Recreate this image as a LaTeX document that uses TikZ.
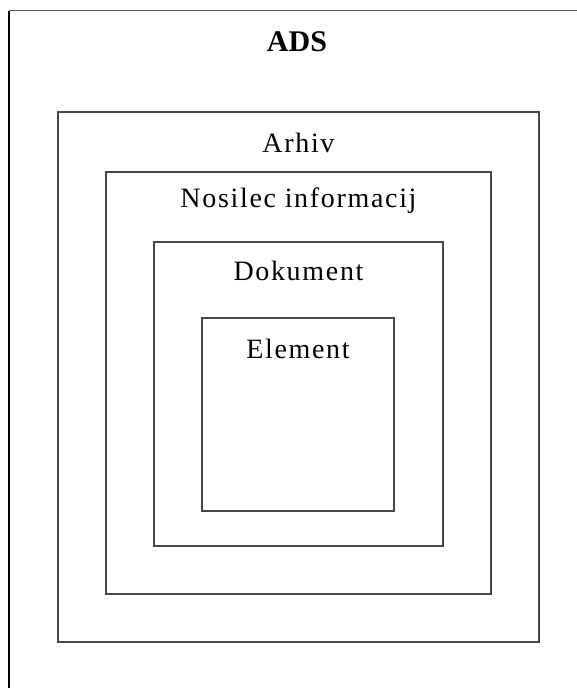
\documentclass[tikz,border=0pt]{standalone}
\usepackage{fontspec}
\setmainfont{Liberation Serif}
\newfontfamily\labfont[LetterSpace=6]{Liberation Serif}
\begin{document}
\begin{tikzpicture}[x=1pt,y=-1pt,
  layerbox/.style={draw=black!72, line width=1.2pt, rectangle, inner sep=0pt},
  layerlabel/.style={anchor=base, inner sep=0pt, font=\labfont\fontsize{28}{30}\selectfont},
  titlelabel/.style={anchor=base, inner sep=0pt, font=\bfseries\fontsize{30}{32}\selectfont}]
\useasboundingbox (0,0) rectangle (577,688);
\fill[white] (0,0) rectangle (577,688);
% outer frame (only left and top visible)
\draw[black, line width=1.6pt] (9,688) -- (9,10.5);
\draw[black!65, line width=1.1pt] (9,10.5) -- (577,10.5);
% boxes
\node[layerbox, minimum width=481pt, minimum height=530pt] (arhiv) at (298.5,377) {};
\node[layerbox, minimum width=385pt, minimum height=422pt] (nosilec) at (298.5,383) {};
\node[layerbox, minimum width=289pt, minimum height=304pt] (dokument) at (298.5,394) {};
\node[layerbox, minimum width=192pt, minimum height=193pt] (element) at (298,414.5) {};
% labels
\node[titlelabel] (ads) at (297,51) {ADS};
\node[layerlabel] (larhiv) at (298.5,152) {Arhiv};
\node[layerlabel] (lnosilec) at (298.5,207) {Nosilec informacij};
\node[layerlabel] (ldokument) at (298.5,280) {Dokument};
\node[layerlabel] (lelement) at (298,358) {Element};
\end{tikzpicture}
\end{document}
